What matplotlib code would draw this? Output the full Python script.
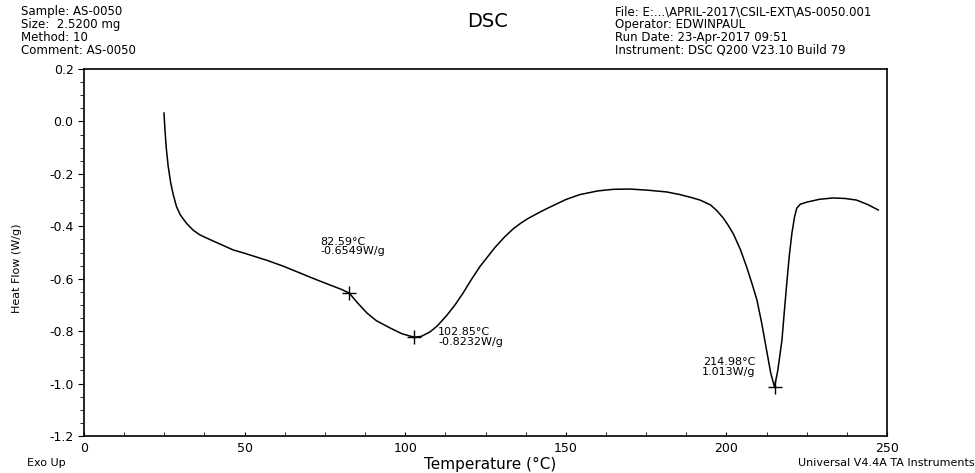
import matplotlib
matplotlib.use('Agg')
import matplotlib.pyplot as plt
from matplotlib.ticker import MultipleLocator

plt.rcParams['font.family'] = ['DejaVu Sans']

# кривата, прочетена от картинката (температура, топлинен поток)
temp = [24.9, 25.2, 25.6, 26.2, 27.0, 27.8, 28.8, 30.0, 32.0, 34.0, 36.1,
        40.0, 46.4, 50.0, 57.0, 62.0, 67.2, 72.0, 76.6, 80.0, 82.59,
        85.0, 88.1, 91.0, 95.3, 99.0, 102.85, 105.0, 107.7, 110.0, 113.0,
        115.5, 118.0, 120.5, 123.3, 128.0, 131.0, 133.6, 136.0, 138.0,
        141.0, 144.0, 150.0, 154.4, 160.0, 164.8, 170.0, 175.2, 181.4,
        185.5, 189.0, 191.8, 195.0, 197.0, 199.0, 200.5, 202.2, 204.3,
        206.3, 208.0, 209.5, 211.0, 212.5, 213.8, 214.98, 216.0, 217.3,
        218.0, 218.8, 219.6, 220.4, 221.2, 221.9, 223.0, 225.0, 229.0,
        233.2, 237.0, 240.5, 244.0, 247.3]
heat = [0.032, -0.03, -0.10, -0.17, -0.235, -0.28, -0.325, -0.357, -0.39,
        -0.415, -0.433, -0.455, -0.49, -0.503, -0.53, -0.552, -0.578,
        -0.602, -0.624, -0.64, -0.6549, -0.69, -0.731, -0.76, -0.788,
        -0.81, -0.8232, -0.82, -0.803, -0.78, -0.739, -0.70, -0.655,
        -0.605, -0.553, -0.48, -0.44, -0.41, -0.388, -0.372, -0.352,
        -0.333, -0.298, -0.279, -0.265, -0.259, -0.258, -0.262, -0.269,
        -0.279, -0.29, -0.30, -0.318, -0.34, -0.368, -0.395, -0.43,
        -0.487, -0.555, -0.62, -0.681, -0.77, -0.872, -0.96, -1.013,
        -0.95, -0.834, -0.73, -0.617, -0.51, -0.426, -0.365, -0.331,
        -0.316, -0.308, -0.297, -0.292, -0.294, -0.30, -0.317, -0.338]

# отбелязани точки
peak_t = [82.59, 102.85, 214.98]
peak_v = [-0.6549, -0.8232, -1.013]
peak_lbl = ['82.59°C\n-0.6549W/g', '102.85°C\n-0.8232W/g', '214.98°C\n1.013W/g']

x_ticks = [0, 50, 100, 150, 200, 250]
y_ticks = [0.2, 0.0, -0.2, -0.4, -0.6, -0.8, -1.0, -1.2]

left_hdr = ['Sample: AS-0050', 'Size:  2.5200 mg', 'Method: 10', 'Comment: AS-0050']
right_hdr = ['File: E:...\\APRIL-2017\\CSIL-EXT\\AS-0050.001', 'Operator: EDWINPAUL',
             'Run Date: 23-Apr-2017 09:51', 'Instrument: DSC Q200 V23.10 Build 79']

W, H = 975, 473
fig = plt.figure(figsize=(W / 100, H / 100), dpi=100)
ax = fig.add_axes([84 / W, 1 - 436 / H, 803 / W, 367 / H])

ax.plot(temp, heat, color='black', lw=1.1)
ax.plot(peak_t, peak_v, '+', color='black', ms=10, mew=1)

ax.text(73.5, -0.44, peak_lbl[0], fontsize=8, va='top', ha='left', linespacing=0.95)
ax.text(110.2, -0.785, peak_lbl[1], fontsize=8, va='top', ha='left', linespacing=0.95)
ax.text(209.0, -0.90, peak_lbl[2], fontsize=8, va='top', ha='right', linespacing=0.95)

ax.set_xlim(0, 250)
ax.set_ylim(-1.2, 0.2)
ax.set_xticks(x_ticks)
ax.set_yticks(y_ticks)
ax.set_yticklabels(['%.1f' % v for v in y_ticks])
ax.xaxis.set_minor_locator(MultipleLocator(12.5))
ax.yaxis.set_minor_locator(MultipleLocator(0.05))
ax.tick_params(axis='x', which='both', direction='in', length=3, labelsize=9, pad=4)
ax.tick_params(axis='y', which='major', direction='out', length=4, labelsize=9)
ax.tick_params(axis='y', which='minor', direction='out', length=3)
for s in ax.spines.values():
    s.set_linewidth(1.2)

fig.text(17 / W, 1 - 268 / H, 'Heat Flow (W/g)', fontsize=8, rotation=90,
         ha='center', va='center')
fig.text(490 / W, 1 - 464 / H, 'Temperature (°C)', fontsize=11, ha='center', va='center')
fig.text(27 / W, 1 - 463 / H, 'Exo Up', fontsize=8, ha='left', va='center')
fig.text(975 / W, 1 - 463 / H, 'Universal V4.4A TA Instruments', fontsize=8,
         ha='right', va='center')

# заглавна част
fig.text(21 / W, 1 - 31 / H, '\n'.join(left_hdr), fontsize=8.5, ha='left',
         va='center', linespacing=0.98)
fig.text(615 / W, 1 - 31 / H, '\n'.join(right_hdr), fontsize=8.5, ha='left',
         va='center', linespacing=0.98)
fig.text(488 / W, 1 - 21 / H, 'DSC', fontsize=14, ha='center', va='center')

fig.savefig('out.png', dpi=100)
